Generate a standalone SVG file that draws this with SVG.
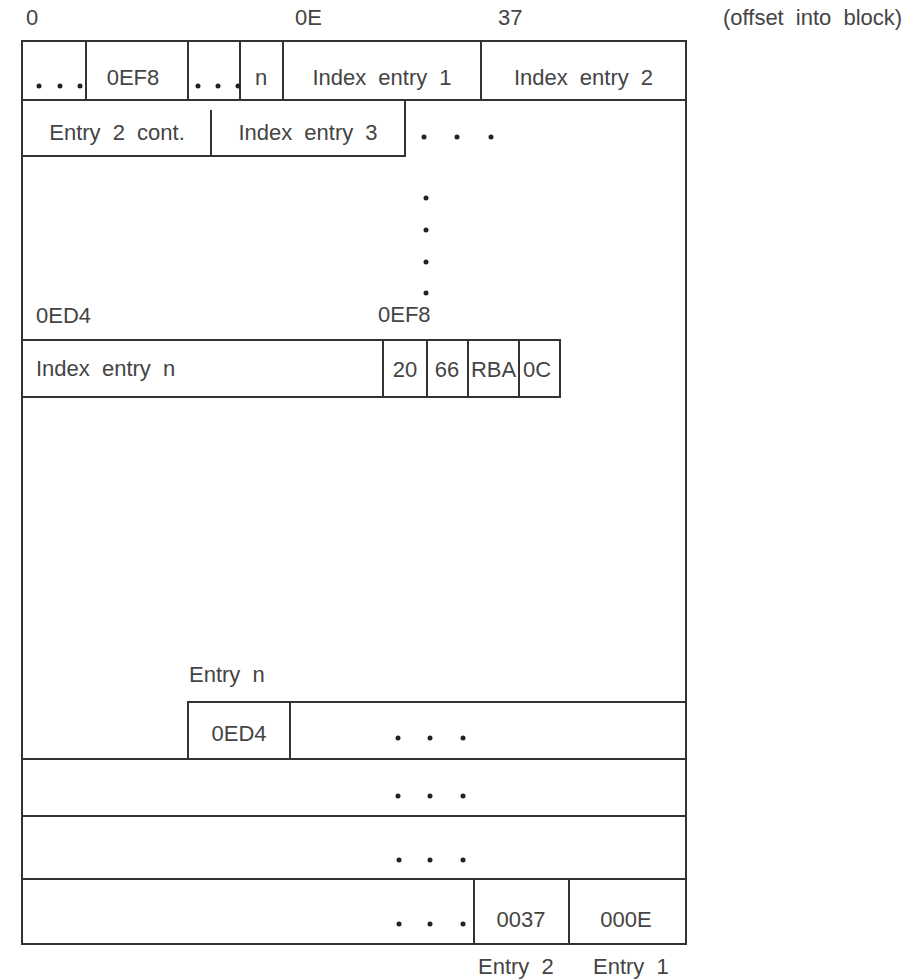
<svg xmlns="http://www.w3.org/2000/svg" width="923" height="980" viewBox="0 0 923 980">
<style>
.ln{stroke:#333;stroke-width:2;fill:none}
.t{font-family:"Liberation Sans",Arial,sans-serif;font-size:22px;fill:#444;word-spacing:6px}
.m{text-anchor:middle}
.d{fill:#222}
</style>
<rect width="923" height="980" fill="#fff"/>
<g id="offsets">
<text class="t" x="26" y="25">0</text>
<text class="t" x="295" y="25">0E</text>
<text class="t" x="498" y="25">37</text>
<text class="t" x="723" y="25">(offset into block)</text>
</g>
<g id="block">
<rect class="ln" x="22" y="41" width="664" height="903"/>
</g>
<g id="row1">
<line class="ln" x1="22" y1="100" x2="686" y2="100"/>
<line class="ln" x1="86" y1="41" x2="86" y2="100"/>
<line class="ln" x1="188" y1="41" x2="188" y2="100"/>
<line class="ln" x1="240" y1="41" x2="240" y2="100"/>
<line class="ln" x1="283" y1="41" x2="283" y2="100"/>
<line class="ln" x1="481" y1="41" x2="481" y2="100"/>
<circle class="d" cx="39" cy="86" r="2.5"/><circle class="d" cx="60" cy="86" r="2.5"/><circle class="d" cx="80" cy="86" r="2.5"/>
<text class="t m" x="133" y="85">0EF8</text>
<circle class="d" cx="198" cy="86" r="2.5"/><circle class="d" cx="218" cy="86" r="2.5"/><circle class="d" cx="238" cy="86" r="2.5"/>
<text class="t m" x="261" y="85">n</text>
<text class="t m" x="382" y="85">Index entry 1</text>
<text class="t m" x="583.5" y="85">Index entry 2</text>
</g>
<g id="row2">
<polyline class="ln" points="22,156 405,156 405,100"/>
<line class="ln" x1="211" y1="110" x2="211" y2="156"/>
<text class="t m" x="117" y="140">Entry 2 cont.</text>
<text class="t m" x="308" y="140">Index entry 3</text>
<circle class="d" cx="424" cy="137" r="2.5"/><circle class="d" cx="457" cy="137" r="2.5"/><circle class="d" cx="491" cy="137" r="2.5"/>
</g>
<g id="vdots">
<circle class="d" cx="426" cy="198" r="2.5"/><circle class="d" cx="426" cy="230" r="2.5"/><circle class="d" cx="426" cy="262" r="2.5"/><circle class="d" cx="426" cy="293" r="2.5"/>
</g>
<g id="entryn-index">
<text class="t" x="36" y="323">0ED4</text>
<text class="t" x="378" y="322">0EF8</text>
<polyline class="ln" points="22,340 560,340 560,397 22,397"/>
<line class="ln" x1="383" y1="340" x2="383" y2="397"/>
<line class="ln" x1="427" y1="340" x2="427" y2="397"/>
<line class="ln" x1="468" y1="340" x2="468" y2="397"/>
<line class="ln" x1="519" y1="340" x2="519" y2="397"/>
<text class="t" x="36" y="376">Index entry n</text>
<text class="t m" x="405" y="377">20</text>
<text class="t m" x="447" y="377">66</text>
<text class="t m" x="493.5" y="377">RBA</text>
<text class="t m" x="537" y="377">0C</text>
</g>
<g id="entry-n">
<text class="t" x="189" y="682">Entry n</text>
<polyline class="ln" points="188,759 188,702 686,702"/>
<line class="ln" x1="290" y1="702" x2="290" y2="759"/>
<text class="t m" x="239" y="741">0ED4</text>
<circle class="d" cx="398" cy="738" r="2.5"/><circle class="d" cx="430" cy="738" r="2.5"/><circle class="d" cx="463" cy="738" r="2.5"/>
</g>
<g id="rows-lower">
<line class="ln" x1="22" y1="759" x2="686" y2="759"/>
<circle class="d" cx="398" cy="796" r="2.5"/><circle class="d" cx="430" cy="796" r="2.5"/><circle class="d" cx="463" cy="796" r="2.5"/>
<line class="ln" x1="22" y1="816" x2="686" y2="816"/>
<circle class="d" cx="399" cy="860" r="2.5"/><circle class="d" cx="430" cy="860" r="2.5"/><circle class="d" cx="463" cy="860" r="2.5"/>
<line class="ln" x1="22" y1="879" x2="686" y2="879"/>
</g>
<g id="entries-1-2">
<line class="ln" x1="474" y1="879" x2="474" y2="944"/>
<line class="ln" x1="569" y1="879" x2="569" y2="944"/>
<circle class="d" cx="399" cy="924" r="2.5"/><circle class="d" cx="430" cy="924" r="2.5"/><circle class="d" cx="463" cy="924" r="2.5"/>
<text class="t m" x="521" y="927">0037</text>
<text class="t m" x="626" y="927">000E</text>
<text class="t" x="478" y="974">Entry 2</text>
<text class="t" x="593" y="974">Entry 1</text>
</g>
</svg>
